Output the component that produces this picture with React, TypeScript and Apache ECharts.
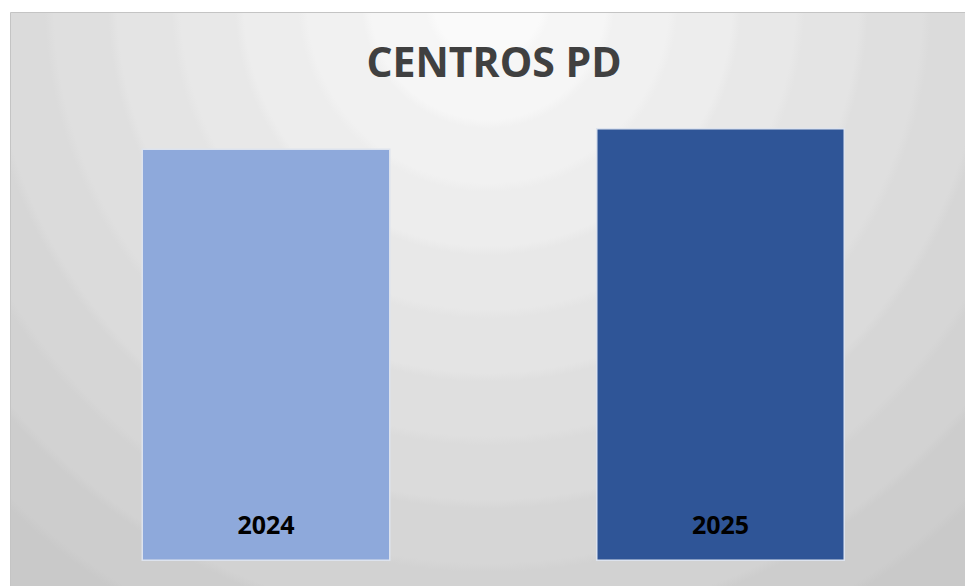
import React, { useEffect, useRef } from "react";
import * as echarts from "echarts";

const categories = ["2024", "2025"];
const values = [20, 21];
const barColors = ["#8EA9DB", "#2F5597"];
const titleText = "CENTROS PD";

function bandStops(n: number, start: number, step: number) {
  const stops: { offset: number; color: string }[] = [];
  for (let k = 0; k < n; k++) {
    const v = Math.round(start - k * step);
    const c = `rgb(${v},${v},${v})`;
    stops.push({ offset: k / n, color: c });
    stops.push({ offset: Math.min(1, (k + 1) / n - 0.012), color: c });
  }
  return stops;
}

export default function App() {
  const ref = useRef<HTMLDivElement>(null);
  useEffect(() => {
    document.body.style.margin = "0";
    if (!ref.current) return;
    const chart = echarts.init(ref.current, null, { renderer: "svg" });
    chart.setOption({
      animation: false,
      graphic: [
        {
          type: "rect",
          z: -10,
          silent: true,
          shape: { x: 10.5, y: 12.5, width: 960, height: 580 },
          style: {
            fill: {
              type: "radial",
              x: 488,
              y: 2,
              r: 760,
              global: true,
              colorStops: bandStops(12, 250, 4.5),
            },
            stroke: "#c4c4c4",
            lineWidth: 1,
          },
        },
        {
          type: "text",
          x: 494,
          y: 61,
          style: {
            text: titleText,
            fontFamily: "Open Sans",
            fontWeight: "bold",
            fontSize: 41,
            fill: "#404040",
            align: "center",
            verticalAlign: "middle",
          },
        },
      ],
      grid: { left: 38.75, right: 17.25, top: 128, bottom: 25 },
      xAxis: {
        type: "category",
        data: categories,
        show: false,
      },
      yAxis: { type: "value", min: 0, max: 21, show: false },
      series: [
        {
          type: "bar",
          barWidth: 249,
          data: values.map((v, i) => ({
            value: v,
            itemStyle: { color: barColors[i] },
          })),
          itemStyle: { borderColor: "#dde3ee", borderWidth: 1.5 },
          label: {
            show: true,
            position: "insideBottom",
            distance: 25,
            formatter: (p: any) => categories[p.dataIndex],
            color: "#000000",
            fontFamily: "Open Sans",
            fontWeight: "bold",
            fontSize: 25,
          },
        },
      ],
    });
    return () => chart.dispose();
  }, []);
  return <div ref={ref} style={{ width: 965, height: 586 }} />;
}
